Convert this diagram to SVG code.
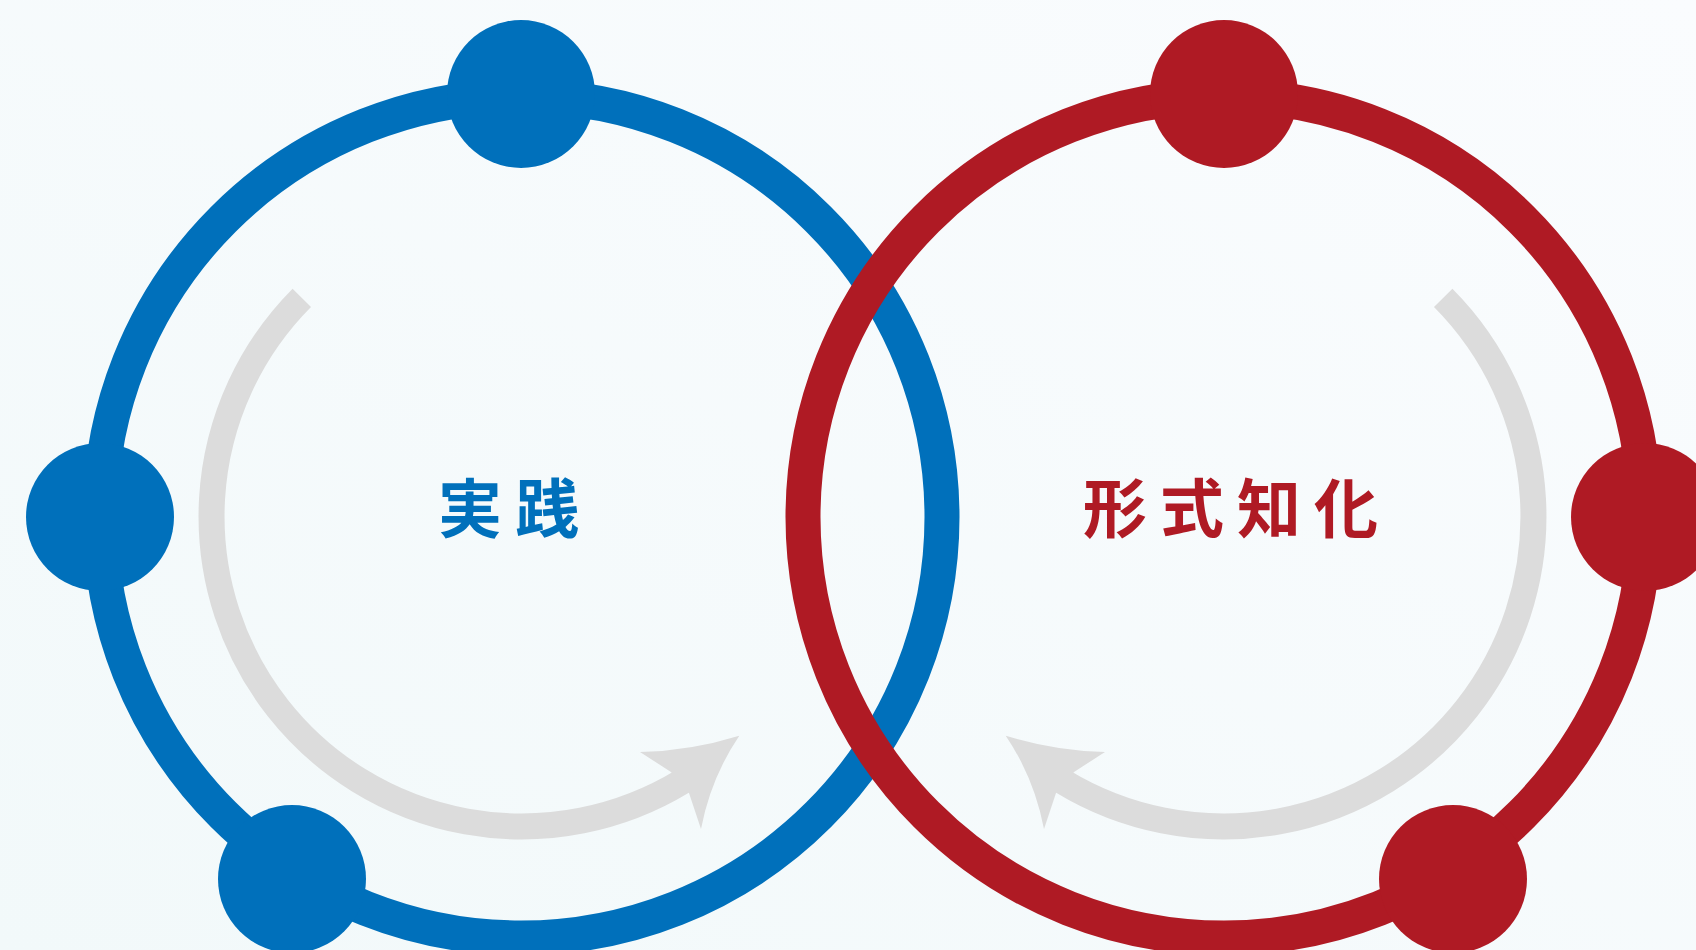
<svg xmlns="http://www.w3.org/2000/svg" width="1696" height="950" viewBox="0 0 1696 950">
  <defs>
    <linearGradient id="bg" x1="1" y1="0" x2="0" y2="1">
      <stop offset="0" stop-color="#FAFCFE"/>
      <stop offset="1" stop-color="#F2F9FA"/>
    </linearGradient>
    <style>
      .ring { fill: none; stroke-width: 35; }
      .blue-ring { stroke: #0070BB; }
      .red-ring { stroke: #AF1A24; }
      .blue { fill: #0070BB; }
      .red { fill: #AF1A24; }
      .shaft { fill: none; stroke: #DCDCDC; stroke-width: 26; }
      .head { fill: #DCDCDC; }
      .label { font-family: "Noto Sans CJK JP", "Noto Sans CJK SC", sans-serif; font-size: 64px; font-weight: 700; letter-spacing: 13px; }
    </style>
  </defs>
  <rect x="0" y="0" width="1696" height="950" fill="url(#bg)"/>

  <g id="connectors">
    <circle class="ring blue-ring" cx="521" cy="517" r="421"/>
    <circle class="ring red-ring" cx="1224" cy="517" r="421"/>
    <g id="cycle-arrow-left">
      <path class="shaft" d="M 301.8 297.8 A 310 310 0 0 0 682.5 781.4"/>
      <path class="head" d="M 640 752 Q 690 751 739.3 735.7 Q 710.7 778 701 829 L 689 793 L 671 772 Z"/>
    </g>
    <g id="cycle-arrow-right" transform="translate(1745 0) scale(-1 1)">
      <path class="shaft" d="M 301.8 297.8 A 310 310 0 0 0 682.5 781.4"/>
      <path class="head" d="M 640 752 Q 690 751 739.3 735.7 Q 710.7 778 701 829 L 689 793 L 671 772 Z"/>
    </g>
  </g>

  <g id="node-blue-top"><circle class="blue" cx="521" cy="94" r="74"/></g>
  <g id="node-blue-left"><circle class="blue" cx="100" cy="517" r="74"/></g>
  <g id="node-blue-bottom"><circle class="blue" cx="292" cy="879" r="74"/></g>
  <g id="node-red-top"><circle class="red" cx="1224" cy="94" r="74"/></g>
  <g id="node-red-right"><circle class="red" cx="1645" cy="517" r="74"/></g>
  <g id="node-red-bottom"><circle class="red" cx="1453" cy="879" r="74"/></g>

  <g id="label-practice"><text class="label" x="438" y="532" fill="#0070BB">実践</text></g>
  <g id="label-formalization"><text class="label" x="1083" y="532" fill="#AF1A24">形式知化</text></g>
</svg>
